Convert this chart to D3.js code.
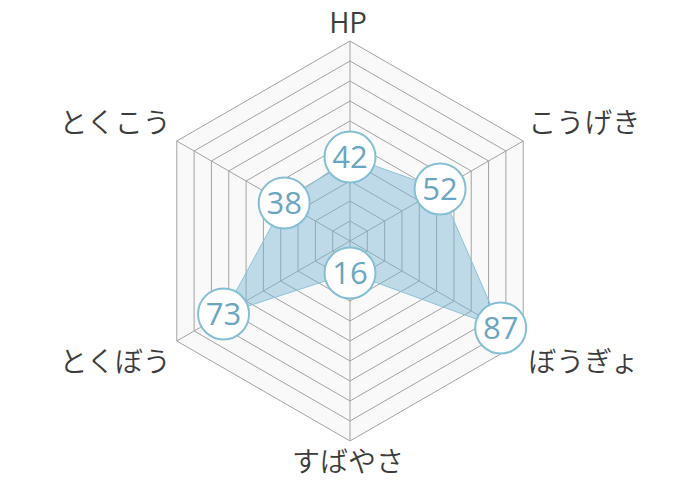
<!DOCTYPE html>
<html>
<head>
<meta charset="utf-8">
<script src="https://cdn.jsdelivr.net/npm/d3@7"></script>
<style>
  body { margin: 0; background: #fff; }
  text { font-family: "Noto Sans CJK JP", "Noto Sans", sans-serif; }
</style>
</head>
<body>
<div id="canvas"></div>
<script>
let categories = ['HP', 'こうげき', 'ぼうぎょ', 'すばやさ', 'とくぼう', 'とくこう']
let values = [42, 52, 87, 16, 73, 38]
let maxValue = 100
let rings = [10, 20, 30, 40, 50, 60, 70, 80, 90, 100]

let width = 700, height = 480
let cx = 350, cy = 241

let svg = d3.select('#canvas').append('svg')
    .attr('width', width)
    .attr('height', height)

let rScale = d3.scaleLinear()
    .domain([0, maxValue])
    .range([0, 200])

// 角度: HPが真上、時計回り
let angle = d3.scaleLinear()
    .domain([0, categories.length])
    .range([-Math.PI / 2, Math.PI * 3 / 2])

let px = (v, i) => cx + rScale(v) * Math.cos(angle(i))
let py = (v, i) => cy + rScale(v) * Math.sin(angle(i))

let hexPath = v => d3.line()(categories.map((c, i) => [px(v, i), py(v, i)])) + 'Z'

// 背景
svg.append('path')
    .attr('d', hexPath(maxValue))
    .style('fill', '#f9f9f9')

// 目盛りの六角形
svg.selectAll('.ring')
    .data(rings)
    .enter()
    .append('path')
    .attr('class', 'ring')
    .attr('d', d => hexPath(d))
    .style('fill', 'none')
    .style('stroke', '#a3a3a3')
    .style('stroke-width', 1)

// 軸
svg.selectAll('.spoke')
    .data(categories)
    .enter()
    .append('line')
    .attr('class', 'spoke')
    .attr('x1', cx).attr('y1', cy)
    .attr('x2', (d, i) => px(maxValue, i))
    .attr('y2', (d, i) => py(maxValue, i))
    .style('stroke', '#a3a3a3')
    .style('stroke-width', 1)

// データ
svg.append('path')
    .attr('d', d3.line()(values.map((v, i) => [px(v, i), py(v, i)])) + 'Z')
    .style('fill', 'rgba(118, 178, 208, 0.45)')
    .style('stroke', '#8ec3d8')
    .style('stroke-width', 1)

// ラベル
svg.selectAll('.label')
    .data(categories)
    .enter()
    .append('text')
    .attr('class', 'label')
    .attr('x', (d, i) => {
        let x = px(maxValue, i)
        if (Math.abs(x - cx) < 1) return x - 2
        return x > cx ? x + 5 : x - 6
    })
    .attr('y', (d, i) => {
        let y = py(maxValue, i)
        return y < cy ? y - 8 : y + 31
    })
    .attr('text-anchor', (d, i) => {
        let x = px(maxValue, i)
        if (Math.abs(x - cx) < 1) return 'middle'
        return x > cx ? 'start' : 'end'
    })
    .style('font-size', '28px')
    .style('font-weight', 350)
    .style('fill', '#3c3c3c')
    .text(d => d)

// 値の丸
let marks = svg.selectAll('.mark')
    .data(values)
    .enter()
    .append('g')
    .attr('class', 'mark')
    .attr('transform', (d, i) => `translate(${px(d, i)}, ${py(d, i)})`)

marks.append('circle')
    .attr('r', 25.5)
    .style('fill', '#fff')
    .style('stroke', '#85bfd6')
    .style('stroke-width', 2)

marks.append('text')
    .attr('text-anchor', 'middle')
    .attr('dy', '0.36em')
    .style('font-family', '"Open Sans", sans-serif')
    .style('font-size', '31px')
    .style('font-weight', 400)
    .style('fill', '#6aa6c2')
    .text(d => d)
</script>
</body>
</html>
